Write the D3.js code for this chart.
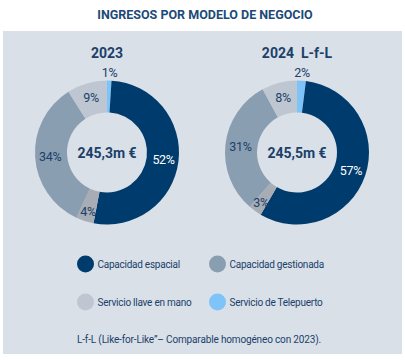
<!DOCTYPE html>
<html>
<head>
<meta charset="utf-8">
<script src="https://d3js.org/d3.v7.min.js"></script>
<style>
body {margin: 0; background: #fff;}
svg {display: block; font-family: Roboto, "Liberation Sans", sans-serif;}
</style>
</head>
<body>
<svg id="chart" width="405" height="360"></svg>
<script>
// data
var categories = ["Servicio de Telepuerto", "Capacidad espacial", "Otros", "Capacidad gestionada", "Servicio llave en mano"];
var colors = ["#7fc4f8", "#003b6d", "#a8acb4", "#8a9eb2", "#bec7d1"];
var values2023 = [1, 52, 4, 34, 9];
var values2024 = [2, 57, 3, 31, 8];
var years = ["2023", "2024\u00a0\u00a0L-f-L"];
var totals = ["245,3m €", "245,5m €"];
var legendItems = ["Capacidad espacial", "Capacidad gestionada", "Servicio llave en mano", "Servicio de Telepuerto"];

var svg = d3.select("#chart");
var textColor = "#1b406a";

//panel
svg.append("rect").attr("x", 3).attr("y", 31).attr("width", 399).attr("height", 323).attr("fill", "#d9e0e8");

//title
svg.append("text").attr("x", 205).attr("y", 19).attr("text-anchor", "middle")
    .style("font-size", "12.5px").style("font-weight", "bold").attr("fill", "#1b4a78")
    .text("INGRESOS POR MODELO DE NEGOCIO");

var R = 72, r = 40;
var pie = d3.pie().sort(null).value(function(d) {return d;});
var arc = d3.arc().innerRadius(r).outerRadius(R);
var labelArc = d3.arc().innerRadius((R + r) / 2 + 1).outerRadius((R + r) / 2 + 1);
var outerArc = d3.arc().innerRadius(R + 8).outerRadius(R + 8);
var color = d3.scaleOrdinal().domain(categories).range(colors);

function donut(values, cx, year, total) {
    var g = svg.append("g").attr("transform", "translate(" + cx + ",152.5)");
    var arcs = pie(values);
    g.selectAll("path").data(arcs).enter().append("path")
        .attr("d", arc)
        .attr("fill", function(d, i) {return color(categories[i]);});
    g.selectAll(".lbl").data(arcs).enter().append("text")
        .attr("class", "lbl")
        .attr("transform", function(d) {
            var p = d.data <= 2 ? outerArc.centroid(d) : labelArc.centroid(d);
            if (d.data > 2 && d.data < 6) p = [p[0] * 1.08, p[1] * 1.08];
            return "translate(" + p + ")";
        })
        .attr("text-anchor", "middle").attr("dy", "0.36em")
        .style("font-size", "12.5px").style("letter-spacing", "-0.3px")
        .attr("fill", function(d, i) {return i == 1 ? "#fff" : textColor;})
        .text(function(d) {return d.data + "%";});
    g.append("text").attr("text-anchor", "middle").attr("dy", "0.36em")
        .style("font-size", "14px").style("font-weight", "bold").attr("fill", textColor)
        .text(total);
    svg.append("text").attr("x", cx).attr("y", 58).attr("text-anchor", "middle")
        .style("font-size", "14px").style("font-weight", "bold").attr("fill", textColor)
        .text(year);
}
donut(values2023, 107, years[0], totals[0]);
donut(values2024, 297, years[1], totals[1]);

//legend
var lx = [85.5, 217.5], ly = [264, 302];
legendItems.forEach(function(name, i) {
    var x = lx[i % 2], y = ly[Math.floor(i / 2)];
    svg.append("circle").attr("cx", x).attr("cy", y).attr("r", 8.5).attr("fill", color(name));
    svg.append("text").attr("x", x + 12).attr("y", y).attr("dy", "0.35em")
        .style("font-size", "10px").style("letter-spacing", "-0.25px")
        .attr("fill", textColor).text(name);
});

svg.append("text").attr("x", 77).attr("y", 339).attr("dy", "0.35em")
    .style("font-size", "10px").style("letter-spacing", "-0.15px").attr("fill", textColor)
    .text("L-f-L (Like-for-Like\u201d\u2013 Comparable homogéneo con 2023).");
</script>
</body>
</html>
